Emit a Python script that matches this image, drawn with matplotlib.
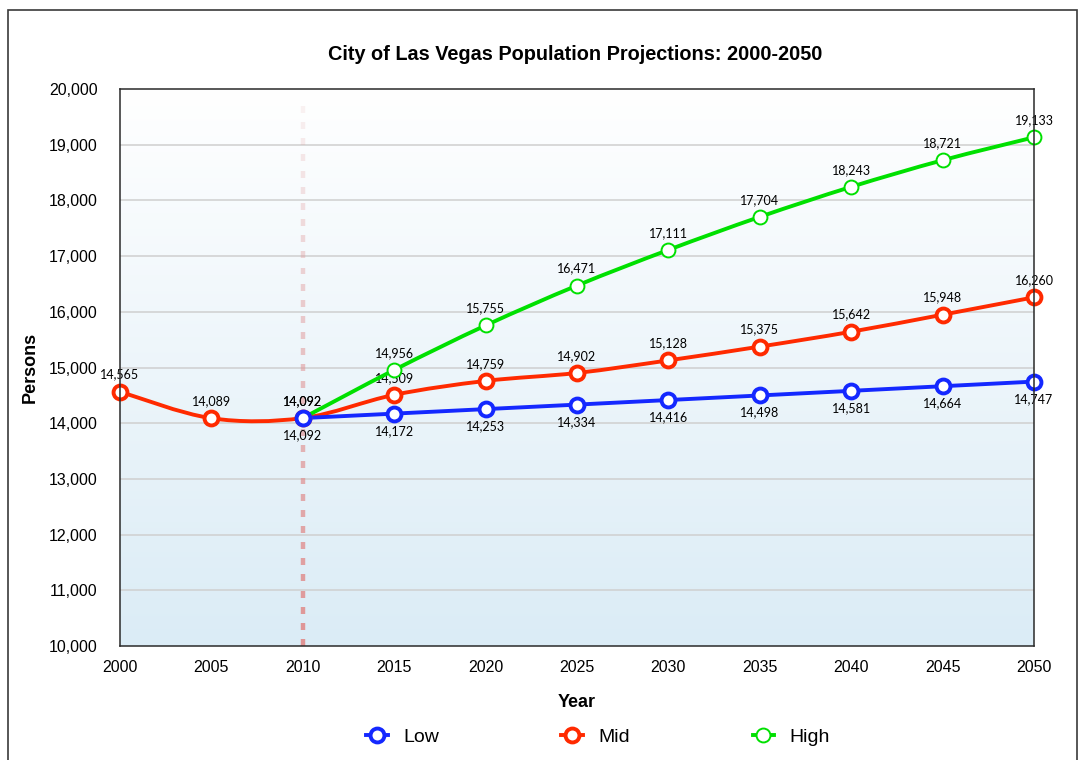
import matplotlib
matplotlib.use("Agg")
import matplotlib.pyplot as plt
from matplotlib.path import Path
from matplotlib.patches import PathPatch, Rectangle
from matplotlib.lines import Line2D
from matplotlib.collections import LineCollection
from matplotlib.ticker import FuncFormatter
import numpy as np

years_mid = [2000, 2005, 2010, 2015, 2020, 2025, 2030, 2035, 2040, 2045, 2050]
mid = [14565, 14089, 14092, 14509, 14759, 14902, 15128, 15375, 15642, 15948, 16260]
years_proj = [2010, 2015, 2020, 2025, 2030, 2035, 2040, 2045, 2050]
low = [14092, 14172, 14253, 14334, 14416, 14498, 14581, 14664, 14747]
high = [14092, 14956, 15755, 16471, 17111, 17704, 18243, 18721, 19133]

C_LOW = "#1428ff"
C_MID = "#ff2a00"
C_HIGH = "#00e000"

TICK_FONT = ["Liberation Sans", "DejaVu Sans"]
LABEL_FONT = ["Lato", "DejaVu Sans"]


def smooth_path(xs, ys):
    # excel style smoothed line: catmull-rom segments as cubic beziers
    pts = np.column_stack([xs, ys]).astype(float)
    n = len(pts)
    verts = [pts[0]]
    codes = [Path.MOVETO]
    for i in range(n - 1):
        p0 = pts[i - 1] if i > 0 else pts[i]
        p1 = pts[i]
        p2 = pts[i + 1]
        p3 = pts[i + 2] if i + 2 < n else pts[i + 1]
        c1 = p1 + (p2 - p0) / 6.0
        c2 = p2 - (p3 - p1) / 6.0
        verts += [c1, c2, p2]
        codes += [Path.CURVE4] * 3
    return Path(verts, codes)


fig = plt.figure(figsize=(10.79, 7.60), dpi=100)
ax = fig.add_axes([120 / 1079, 114 / 760, 914 / 1079, 557 / 760])

ax.set_xlim(2000, 2050)
ax.set_ylim(10000, 20000)

# background gradient, white at the top
grad = np.linspace(0, 1, 256).reshape(-1, 1)
top = np.array([1.0, 1.0, 1.0])
bot = np.array([219, 236, 246]) / 255.0
img = top + (bot - top) * grad[:, :, None] * np.ones((1, 2, 1))
ax.imshow(img, extent=[2000, 2050, 10000, 20000], origin="upper", aspect="auto", zorder=0)

ax.set_yticks(np.arange(10000, 20001, 1000))
ax.set_xticks(np.arange(2000, 2051, 5))
for yv in np.arange(11000, 20000, 1000):
    ax.axhline(yv, color="#cfcfcf", lw=1.1, zorder=1)

# fading dashed line at 2010
starts = np.arange(10000, 19600, 290)
segs = [[(2010, s), (2010, s + 125)] for s in starts]
alphas = 1.0 - (starts - 10000) / 9600.0
cols = [(0.88, 0.58, 0.58, 0.12 + 0.88 * a) for a in alphas]
ax.add_collection(LineCollection(segs, colors=cols, linewidths=3.2, zorder=2))

# lines
ax.add_patch(PathPatch(smooth_path(years_mid, mid), fill=False, edgecolor=C_MID, lw=2.8, zorder=4))
ax.add_patch(PathPatch(smooth_path(years_proj, low), fill=False, edgecolor=C_LOW, lw=2.8, zorder=4))
ax.add_patch(PathPatch(smooth_path(years_proj, high), fill=False, edgecolor=C_HIGH, lw=2.8, zorder=4))

ax.plot(years_mid, mid, ls="none", marker="o", ms=10, mfc="white", mec=C_MID, mew=2.8, zorder=5, clip_on=False)
ax.plot(years_proj, high, ls="none", marker="o", ms=10, mfc="white", mec=C_HIGH, mew=1.4, zorder=5, clip_on=False)
ax.plot(years_proj, low, ls="none", marker="o", ms=10, mfc="white", mec=C_LOW, mew=2.8, zorder=6, clip_on=False)

# data labels
for x, y in zip(years_mid, mid):
    ax.annotate(f"{y:,}", (x, y), xytext=(0, 8), textcoords="offset points", ha="center", va="bottom",
                fontsize=9, family=LABEL_FONT, zorder=3, annotation_clip=False)
for x, y in zip(years_proj, high):
    ax.annotate(f"{y:,}", (x, y), xytext=(0, 8), textcoords="offset points", ha="center", va="bottom",
                fontsize=9, family=LABEL_FONT, zorder=3, annotation_clip=False)
for x, y in zip(years_proj, low):
    ax.annotate(f"{y:,}", (x, y), xytext=(0, -8), textcoords="offset points", ha="center", va="top",
                fontsize=9, family=LABEL_FONT, zorder=3, annotation_clip=False)

ax.yaxis.set_major_formatter(FuncFormatter(lambda v, p: f"{int(v):,}"))
ax.tick_params(axis="both", length=0, labelsize=11.5)
ax.tick_params(axis="y", pad=16)
ax.tick_params(axis="x", pad=10)
for lab in ax.get_xticklabels() + ax.get_yticklabels():
    lab.set_family(TICK_FONT)
for sp in ax.spines.values():
    sp.set_color("#2a2a2a")
    sp.set_linewidth(1.1)
    sp.set_zorder(7)

ax.set_xlabel("Year", fontsize=13, fontweight="bold", family=TICK_FONT, labelpad=14)
ax.set_ylabel("Persons", fontsize=13, fontweight="bold", family=TICK_FONT, labelpad=7)
fig.text(575 / 1079, 1 - 54 / 760, "City of Las Vegas Population Projections: 2000-2050",
         ha="center", va="center", fontsize=14.3, fontweight="bold", family=TICK_FONT)

handles = [
    Line2D([], [], color=C_LOW, lw=2.8, marker="o", ms=10, mfc="white", mec=C_LOW, mew=2.8),
    Line2D([], [], color=C_MID, lw=2.8, marker="o", ms=10, mfc="white", mec=C_MID, mew=2.8),
    Line2D([], [], color=C_HIGH, lw=2.8, marker="o", ms=10, mfc="white", mec=C_HIGH, mew=1.4),
]
fig.legend(handles, ["Low", "Mid", "High"], loc="center", bbox_to_anchor=(598 / 1079, 1 - 737 / 760),
           ncol=3, frameon=False, handlelength=1.1, handletextpad=0.8,
           columnspacing=6.3, prop={"family": TICK_FONT, "size": 14})

# outer frame
fig.patches.append(Rectangle((8 / 1079, -0.02), 1069 / 1079, 750 / 760 + 0.02, transform=fig.transFigure,
                             fill=False, edgecolor="#3a3a3a", lw=1.2))

fig.savefig("out.png", dpi=100)
